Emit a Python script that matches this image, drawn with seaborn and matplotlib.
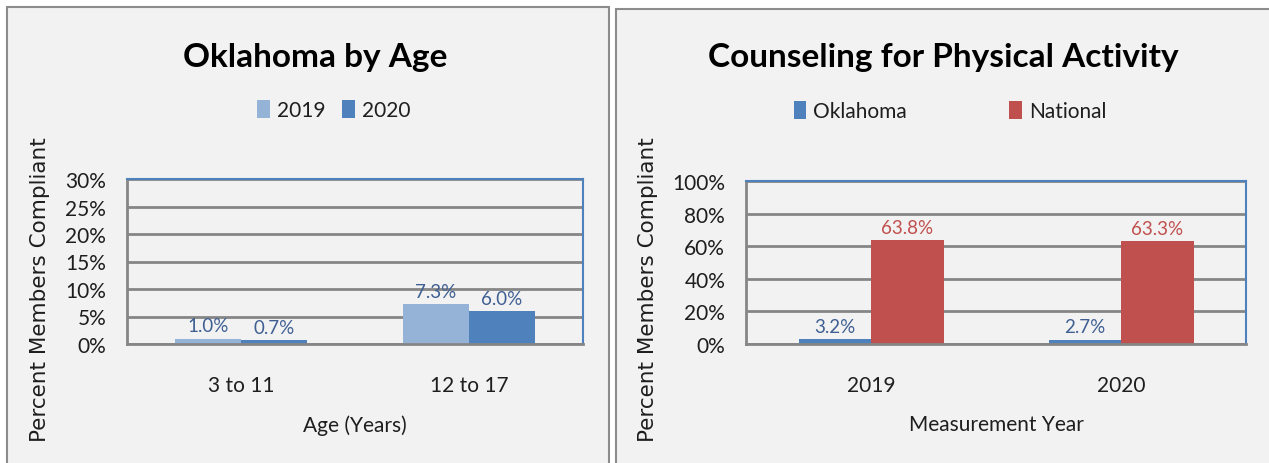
import matplotlib
matplotlib.use("Agg")
import matplotlib.pyplot as plt
from matplotlib.patches import Rectangle, Patch
import seaborn as sns
import pandas as pd

# ---- data ----
age_groups = ["3 to 11", "12 to 17"]
age_2019 = [1.0, 7.3]
age_2020 = [0.7, 6.0]

years = ["2019", "2020"]
oklahoma = [3.2, 2.7]
national = [63.8, 63.3]

left_yticks = [0, 5, 10, 15, 20, 25, 30]
right_yticks = [0, 20, 40, 60, 80, 100]

sns.set_theme(style="white")
FONT = "Lato"
plt.rcParams["font.family"] = [FONT, "DejaVu Sans"]

W, H = 1269, 464
fig = plt.figure(figsize=(W / 100, H / 100), dpi=100)
fig.patch.set_facecolor("white")

BG = "#f2f2f2"
GRID = "#868686"
C19 = "#95b3d7"
C20 = "#4f81bd"
CRED = "#c0504d"
LBLUE = "#3f5f93"
TXT = "#1e1e1e"


def px(x0, y0, x1, y1):
    """pixel box (top-left origin) -> figure fraction rect"""
    return [x0 / W, 1 - y1 / H, (x1 - x0) / W, (y1 - y0) / H]


# panel backgrounds
for (x0, y0, x1, y1) in [(7, 8, 609, 475), (616, 10, 1280, 475)]:
    r = px(x0, y0, x1, y1)
    fig.patches.append(Rectangle((r[0], r[1]), r[2], r[3], transform=fig.transFigure,
                                 facecolor=BG, edgecolor="#8c8c8c", lw=1.5, zorder=-5))


def style_axes(ax, ticks):
    ax.set_facecolor(BG)
    ax.set_axisbelow(True)
    ax.yaxis.grid(True, color=GRID, lw=2)
    ax.xaxis.grid(False)
    ax.set_ylim(ticks[0], ticks[-1])
    ax.set_yticks(ticks)
    ax.set_yticklabels([f"{t}%" for t in ticks])
    ax.tick_params(axis="both", length=0, labelsize=15, colors=TXT)
    ax.tick_params(axis="y", pad=15)
    ax.tick_params(axis="x", pad=22)
    for s in ["left", "bottom"]:
        ax.spines[s].set_color(GRID)
        ax.spines[s].set_linewidth(2)
    for s in ["top", "right"]:
        ax.spines[s].set_color(C20)
        ax.spines[s].set_linewidth(1.5)


def draw_panel(rect, cats, s1, s2, names_, colors, lblcolors, ticks, title, xlabel,
               title_x, legend_anchor, legend_gap):
    ax = fig.add_axes(rect, zorder=2)
    df = pd.DataFrame({
        "cat": cats * 2,
        "series": [names_[0]] * len(cats) + [names_[1]] * len(cats),
        "val": list(s1) + list(s2),
    })
    sns.barplot(data=df, x="cat", y="val", hue="series", palette=colors,
                saturation=1, width=0.58, ax=ax, legend=False,
                linewidth=0, edgecolor="none")
    style_axes(ax, ticks)
    ax.set_ylabel("")
    ax.set_xlabel(xlabel, fontsize=15, labelpad=14, color=TXT)
    for cont, lc in zip(ax.containers, lblcolors):
        ax.bar_label(cont, fmt="%.1f%%", padding=3, color=lc, fontsize=13.5)
    handles = [Patch(facecolor=c, edgecolor="none") for c in colors]
    fig.legend(handles, names_, loc="center", bbox_to_anchor=legend_anchor,
               ncol=2, frameon=False, fontsize=15, handlelength=0.6,
               handleheight=1.0, handletextpad=0.35, columnspacing=legend_gap,
               labelcolor=TXT)
    fig.text(title_x, 1 - 58 / H, title, ha="center", va="center",
             fontsize=24, fontweight="bold", color="black")
    return ax


draw_panel(px(127, 180, 583, 345), age_groups, age_2019, age_2020, ["2019", "2020"],
           [C19, C20], [LBLUE, LBLUE], left_yticks, "Oklahoma by Age", "Age (Years)",
           315 / W, (334 / W, 1 - 111 / H), 0.8)
fig.text(40 / W, 1 - 290 / H, "Percent Members Compliant", rotation=90, ha="center",
         va="center", fontsize=15.5, family="DejaVu Sans", color=TXT)

draw_panel(px(746, 182, 1246, 345), years, oklahoma, national, ["Oklahoma", "National"],
           [C20, CRED], [LBLUE, CRED], right_yticks, "Counseling for Physical Activity",
           "Measurement Year", 943 / W, (950 / W, 1 - 112 / H), 4.9)
fig.text(648 / W, 1 - 290 / H, "Percent Members Compliant", rotation=90, ha="center",
         va="center", fontsize=15.5, family="DejaVu Sans", color=TXT)

fig.savefig("out.png", dpi=100, facecolor="white")
